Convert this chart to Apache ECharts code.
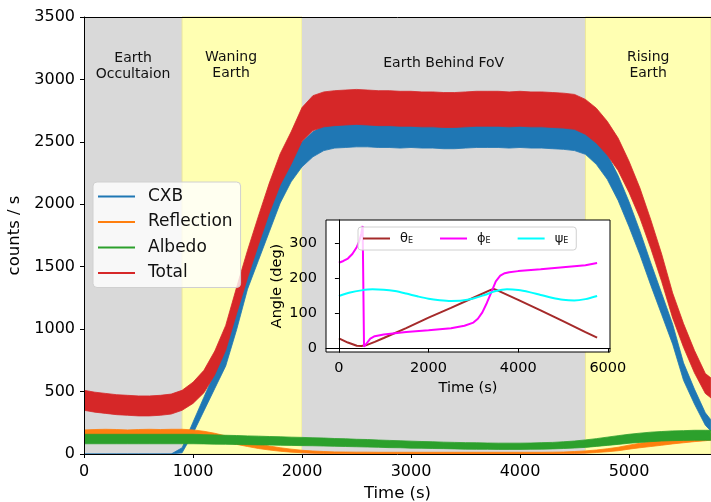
<!DOCTYPE html>
<html>
<head>
<meta charset="utf-8">
<script src="https://cdn.jsdelivr.net/npm/echarts@6/dist/echarts.min.js"></script>
<style>
  html, body { margin: 0; padding: 0; background: #fff; }
  #chart { width: 711px; height: 502px; }
</style>
</head>
<body>
<div id="chart"></div>
<script>
// ---- count rates along the orbit (sampled every 100 s) ----
const timeS = [
  0, 100, 200, 300, 400, 500, 600, 700, 800, 900,
  1000, 1100, 1200, 1300, 1400, 1500, 1600, 1700, 1800, 1900,
  2000, 2100, 2200, 2300, 2400, 2500, 2600, 2700, 2800, 2900,
  3000, 3100, 3200, 3300, 3400, 3500, 3600, 3700, 3800, 3900,
  4000, 4100, 4200, 4300, 4400, 4500, 4600, 4700, 4800, 4900,
  5000, 5100, 5200, 5300, 5400, 5500, 5600, 5700, 5750
];

// mean rate of each component (counts / s)
const cxbRate = [
  0, 0, 0, 0, 0, 0, 0, 0, 0, 30,
  210, 400, 590, 780, 1080, 1410, 1645, 1880, 2110, 2280,
  2400, 2480, 2530, 2550, 2555, 2560, 2560, 2555, 2555, 2550,
  2555, 2550, 2550, 2545, 2545, 2550, 2555, 2555, 2555, 2550,
  2555, 2550, 2550, 2545, 2540, 2530, 2500, 2420, 2300, 2130,
  1920, 1690, 1440, 1200, 960, 660, 460, 280, 230
];
const reflectionRate = [
  165, 168, 170, 168, 165, 168, 170, 168, 170, 170,
  165, 155, 140, 120, 100, 80, 62, 48, 36, 27,
  20, 15, 12, 10, 9, 8, 8, 7, 7, 7,
  7, 7, 7, 7, 7, 7, 7, 7, 7, 7,
  7, 7, 7, 8, 9, 12, 16, 22, 30, 40,
  55, 68, 80, 92, 104, 115, 125, 133, 138
];
const albedoRate = [
  120, 120, 120, 120, 120, 120, 120, 120, 120, 120,
  120, 118, 116, 114, 112, 110, 108, 106, 104, 102,
  100, 98, 96, 93, 91, 88, 86, 83, 80, 78,
  75, 73, 71, 69, 67, 65, 64, 63, 62, 62,
  62, 63, 65, 67, 71, 76, 83, 92, 102, 112,
  122, 130, 137, 142, 146, 148, 150, 150, 150
];
const totalRate = [
  430, 415, 405, 395, 390, 385, 385, 390, 400, 430,
  490, 580, 730, 930, 1230, 1520, 1790, 2050, 2280, 2450,
  2640, 2730, 2760, 2770, 2775, 2780, 2775, 2770, 2770, 2765,
  2765, 2760, 2760, 2755, 2755, 2760, 2765, 2765, 2765, 2760,
  2765, 2760, 2760, 2755, 2750, 2740, 2700, 2630, 2530, 2400,
  2220, 2010, 1760, 1490, 1190, 950, 740, 565, 530
];

// half-width of the 1 s scatter around each mean (counts / s)
const cxbScatter = [
  0, 0, 0, 0, 0, 0, 0, 0, 0, 20,
  45, 55, 65, 75, 85, 90, 95, 100, 100, 100,
  100, 100, 100, 100, 100, 100, 100, 100, 100, 100,
  100, 100, 100, 100, 100, 100, 100, 100, 100, 100,
  100, 100, 100, 100, 100, 100, 100, 100, 100, 100,
  100, 95, 90, 85, 80, 70, 60, 50, 45
];
const reflectionScatter = [
  28, 28, 28, 28, 28, 28, 28, 28, 28, 28,
  28, 27, 26, 25, 23, 20, 18, 16, 14, 12,
  10, 9, 8, 7, 7, 7, 7, 7, 7, 7,
  7, 7, 7, 7, 7, 7, 7, 7, 7, 7,
  7, 7, 7, 7, 7, 8, 9, 10, 12, 14,
  16, 18, 20, 22, 23, 25, 26, 27, 27
];
const albedoScatter = [
  38, 38, 38, 38, 38, 38, 38, 38, 38, 38,
  38, 37, 37, 36, 36, 35, 35, 34, 34, 33,
  33, 32, 32, 31, 31, 30, 30, 29, 29, 28,
  28, 27, 27, 26, 26, 26, 26, 25, 25, 25,
  25, 25, 26, 26, 27, 28, 30, 31, 33, 35,
  36, 37, 38, 38, 39, 39, 40, 40, 40
];
const totalScatter = [
  80, 80, 80, 80, 80, 80, 80, 80, 80, 80,
  85, 90, 95, 100, 105, 110, 115, 120, 125, 130,
  135, 140, 140, 140, 140, 140, 140, 140, 140, 140,
  140, 140, 140, 140, 140, 140, 140, 140, 140, 140,
  140, 140, 140, 140, 140, 140, 140, 140, 135, 130,
  125, 120, 115, 110, 100, 95, 90, 80, 80
];

// orbit phases shaded behind the light curve
const phaseNames = ['Earth\nOccultaion', 'Waning\nEarth', 'Earth Behind FoV', 'Rising\nEarth'];
const phaseStart = [0, 900, 2000, 4600];
const phaseEnd = [900, 2000, 4600, 5752];

// tick labels
const mainTimeTicks = [0, 1000, 2000, 3000, 4000, 5000];
const insetTimeTicks = [0, 2000, 4000, 6000];
const insetAngleTicks = [0, 100, 200, 300];

// Earth direction angles in the instrument frame
const thetaTime = [0, 200, 400, 500, 600, 800, 1000, 1500, 2000, 2500, 3000, 3400, 3450, 3500, 4000, 4500, 5000, 5500, 5760];
const thetaDeg  = [29, 17, 8, 7, 9, 19, 30, 58, 88, 116, 145, 168, 170, 168, 139, 109, 78, 47, 31];
const phiTime = [0, 100, 200, 300, 400, 450, 500, 530, 560, 600, 700, 800, 1000, 1500, 2000, 2500, 2800, 3000, 3100, 3200, 3300, 3400, 3500, 3600, 3700, 3800, 4000, 4500, 5000, 5500, 5760];
const phiDeg  = [245, 250, 257, 270, 290, 305, 328, 350, 5, 10, 28, 35, 40, 47, 52, 58, 65, 74, 85, 103, 130, 160, 192, 208, 215, 218, 221, 226, 232, 238, 244];
const psiTime = [0, 250, 500, 750, 1000, 1250, 1500, 1750, 2000, 2250, 2500, 2750, 3000, 3250, 3500, 3750, 4000, 4250, 4500, 4750, 5000, 5250, 5500, 5760];
const psiDeg  = [150, 160, 166, 169, 168, 164, 157, 149, 142, 138, 136, 137, 143, 153, 164, 169, 167, 161, 153, 145, 139, 137, 141, 150];

// ---- chart ----
const FONT = 'DejaVu Sans';
const GRAY = '#d9d9d9';
const YELLOW = '#ffffb2';

const components = [
  { name: 'CXB', rate: cxbRate, scatter: cxbScatter, color: '#1f77b4' },
  { name: 'Reflection', rate: reflectionRate, scatter: reflectionScatter, color: '#ff7f0e' },
  { name: 'Albedo', rate: albedoRate, scatter: albedoScatter, color: '#2ca02c' },
  { name: 'Total', rate: totalRate, scatter: totalScatter, color: '#d62728' }
];

const pairs = (xs, ys) => xs.map((x, i) => [x, ys[i]]);

// background phase shading hosted on an empty series
const phaseAreas = phaseNames.map((name, i) => {
  const yellow = i % 2 === 1;
  const label = {
    show: true,
    position: 'insideTop',
    distance: name.indexOf('\n') >= 0 ? 33 : 38,
    color: '#111',
    fontFamily: FONT,
    fontSize: 14,
    lineHeight: 16,
    align: 'center'
  };
  if (i === 1) label.offset = [-11, 0];
  return [
    {
      name: name,
      xAxis: phaseStart[i],
      itemStyle: {
        color: yellow ? YELLOW : GRAY,
        borderColor: yellow ? '#ece79a' : GRAY,
        borderWidth: yellow ? 1 : 0
      },
      label: label
    },
    { xAxis: phaseEnd[i] }
  ];
});

const series = [{
  name: 'phases',
  type: 'line',
  xAxisIndex: 0,
  yAxisIndex: 0,
  data: [],
  z: 1,
  silent: true,
  markArea: { silent: true, data: phaseAreas }
}];

// each component is a filled band between (rate - scatter) and (rate + scatter)
function renderBand(params, api) {
  if (params.dataIndex !== 0) return null;
  const n = params.dataInsideLength;
  const upper = [];
  const lower = [];
  for (let i = 0; i < n; i++) {
    const t = api.value(0, i);
    upper.push(api.coord([t, api.value(2, i)]));
    lower.push(api.coord([t, api.value(1, i)]));
  }
  const cs = params.coordSys;
  return {
    type: 'group',
    clipPath: { type: 'rect', shape: { x: cs.x, y: cs.y, width: cs.width, height: cs.height } },
    children: [{
      type: 'polygon',
      shape: { points: upper.concat(lower.reverse()) },
      style: { fill: api.visual('color'), stroke: api.visual('color'), lineWidth: 0.8 }
    }]
  };
}

components.forEach((c) => {
  series.push({
    name: c.name,
    type: 'custom',
    xAxisIndex: 0,
    yAxisIndex: 0,
    renderItem: renderBand,
    encode: { x: 0, y: [1, 2] },
    itemStyle: { color: c.color },
    data: timeS.map((t, i) => [t, c.rate[i] - c.scatter[i], c.rate[i] + c.scatter[i]]),
    silent: true,
    z: 2
  });
});

// inset: Earth direction angles
const angleCurves = [
  { name: 'θE', data: pairs(thetaTime, thetaDeg), color: '#a52a2a', smooth: false },
  { name: 'ϕE', data: pairs(phiTime, phiDeg), color: '#ff00ff', smooth: false },
  { name: 'ψE', data: pairs(psiTime, psiDeg), color: '#00ffff', smooth: 0.3 }
];
angleCurves.forEach((a) => {
  series.push({
    name: a.name,
    type: 'line',
    xAxisIndex: 2,
    yAxisIndex: 1,
    data: a.data,
    smooth: a.smooth,
    showSymbol: false,
    symbol: 'none',
    color: a.color,
    lineStyle: { width: 2, color: a.color },
    silent: true,
    z: 11
  });
});

const axisText = { color: '#000', fontFamily: FONT };
const plain = (v) => String(v);

const option = {
  backgroundColor: '#fff',
  animation: false,
  grid: [
    { left: 84, top: 17, right: 0, bottom: 48, containLabel: false, outerBoundsMode: 'none' },
    {
      left: 326, top: 220, width: 284, height: 132, outerBoundsMode: 'none',
      show: true, backgroundColor: '#fff', borderColor: '#000', borderWidth: 1, z: 10
    }
  ],
  xAxis: [
    {
      type: 'value', gridIndex: 0, min: 0, max: 5752,
      name: 'Time (s)', nameLocation: 'middle', nameGap: 30,
      nameTextStyle: Object.assign({ fontSize: 16.5 }, axisText),
      axisLine: { show: true, lineStyle: { color: '#000', width: 1 } },
      axisTick: { show: true, length: 4, lineStyle: { color: '#000' }, customValues: mainTimeTicks },
      axisLabel: Object.assign({ fontSize: 16, margin: 10, customValues: mainTimeTicks, formatter: plain }, axisText),
      splitLine: { show: false },
      z: 5
    },
    {
      type: 'value', gridIndex: 0, position: 'top', min: 0, max: 5752,
      axisLine: { show: true, lineStyle: { color: '#000', width: 1 } },
      axisTick: { show: false }, axisLabel: { show: false }, splitLine: { show: false },
      z: 5
    },
    {
      type: 'value', gridIndex: 1, min: -288, max: 6048,
      name: 'Time (s)', nameLocation: 'middle', nameGap: 29,
      nameTextStyle: Object.assign({ fontSize: 14.5 }, axisText),
      axisLine: { show: true, lineStyle: { color: '#000', width: 1 } },
      axisTick: { show: true, length: 4, lineStyle: { color: '#000' }, customValues: insetTimeTicks },
      axisLabel: Object.assign({ fontSize: 14.5, margin: 9, customValues: insetTimeTicks, formatter: plain }, axisText),
      splitLine: { show: false },
      z: 12
    }
  ],
  yAxis: [
    {
      type: 'value', gridIndex: 0, min: 0, max: 3500, interval: 500,
      name: 'counts / s', nameLocation: 'middle', nameGap: 45,
      nameTextStyle: Object.assign({ fontSize: 16.5 }, axisText),
      axisLine: { show: true, lineStyle: { color: '#000', width: 1 } },
      axisTick: { show: true, length: 4, lineStyle: { color: '#000' } },
      axisLabel: Object.assign({ fontSize: 16, margin: 9, formatter: plain }, axisText),
      splitLine: { show: false },
      z: 5
    },
    {
      type: 'value', gridIndex: 1, min: -10, max: 367,
      name: 'Angle (deg)', nameLocation: 'middle', nameGap: 41,
      nameTextStyle: Object.assign({ fontSize: 14.5 }, axisText),
      axisLine: { show: true, lineStyle: { color: '#000', width: 1 } },
      axisTick: { show: true, length: 4, lineStyle: { color: '#000' }, customValues: insetAngleTicks },
      axisLabel: Object.assign({ fontSize: 14.5, margin: 9, customValues: insetAngleTicks, formatter: plain }, axisText),
      splitLine: { show: false },
      z: 12
    }
  ],
  legend: [
    {
      data: components.map((c) => ({ name: c.name, itemStyle: { color: c.color } })),
      orient: 'vertical',
      left: 93, top: 182,
      padding: [6, 8, 6, 5],
      itemWidth: 37, itemHeight: 2, itemGap: 8.5,
      icon: 'rect',
      backgroundColor: 'rgba(255,255,255,0.8)',
      borderColor: '#d0d0d0', borderWidth: 1, borderRadius: 4,
      selectedMode: false,
      formatter: (n) => '{t|' + n + '}',
      textStyle: {
        rich: { t: { fontFamily: FONT, fontSize: 17, color: '#111', lineHeight: 20, padding: [0, 0, 0, 8] } }
      },
      z: 6
    },
    {
      data: angleCurves.map((a) => ({ name: a.name, itemStyle: { color: a.color } })),
      orient: 'horizontal',
      left: 358, top: 227,
      padding: [5, 8, 5, 5],
      itemWidth: 27, itemHeight: 2, itemGap: 27,
      icon: 'rect',
      backgroundColor: 'rgba(255,255,255,0.8)',
      borderColor: '#d0d0d0', borderWidth: 1, borderRadius: 3,
      selectedMode: false,
      formatter: (n) => '{g|' + n.charAt(0) + '}{s|' + n.slice(1) + '}',
      textStyle: {
        rich: {
          g: { fontFamily: FONT, fontSize: 13, color: '#111', lineHeight: 15, padding: [0, 0, 0, 5] },
          s: { fontFamily: FONT, fontSize: 8, color: '#111', lineHeight: 15, padding: [5, 0, 0, 0] }
        }
      },
      z: 13
    }
  ],
  series: series
};

const chart = echarts.init(document.getElementById('chart'), null, { renderer: 'canvas' });
chart.setOption(option);
</script>
</body>
</html>
